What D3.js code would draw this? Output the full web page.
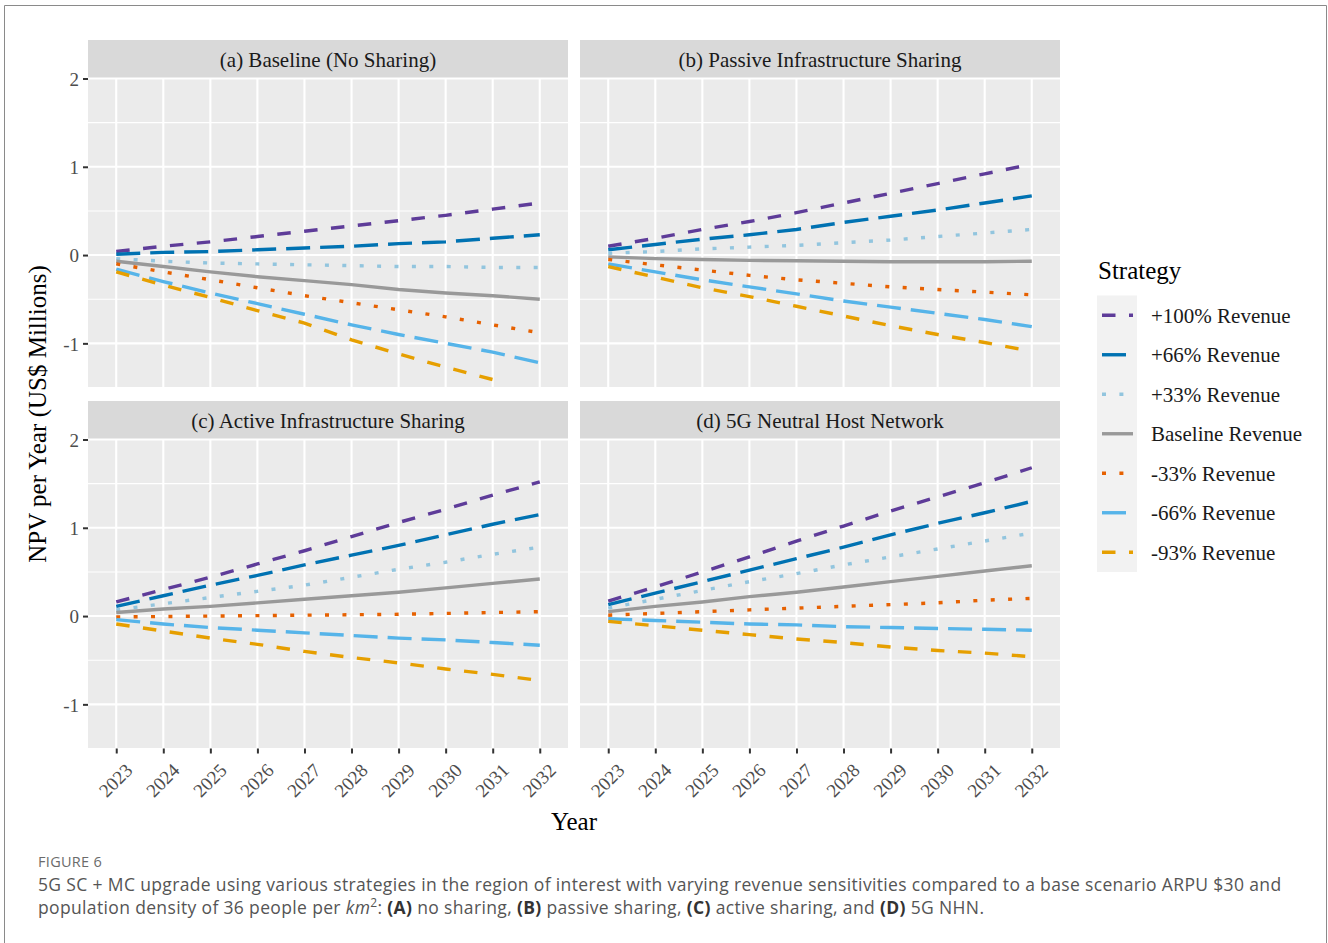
<!DOCTYPE html>
<html>
<head>
<meta charset="utf-8">
<script src="https://cdn.jsdelivr.net/npm/d3@7"></script>
<style>
  body { margin: 0; background: #fff; }
  svg { display: block; }
</style>
</head>
<body>
<script>
// ---- data ----
var years = [2023, 2024, 2025, 2026, 2027, 2028, 2029, 2030, 2031, 2032];
var strategies = ["+100% Revenue", "+66% Revenue", "+33% Revenue", "Baseline Revenue",
                  "-33% Revenue", "-66% Revenue", "-93% Revenue"];
var panelTitles = ["(a) Baseline (No Sharing)", "(b) Passive Infrastructure Sharing",
                   "(c) Active Infrastructure Sharing", "(d) 5G Neutral Host Network"];
var yTicks = [-1, 0, 1, 2];
var yMinor = [-1.5, -0.5, 0.5, 1.5];

// one row per strategy, same order as `strategies`
var noSharing = [
  [0.04, 0.10, 0.15, 0.21, 0.27, 0.33, 0.39, 0.45, 0.52, 0.59],
  [0.01, 0.03, 0.04, 0.06, 0.08, 0.10, 0.13, 0.15, 0.19, 0.23],
  [-0.04, -0.07, -0.09, -0.10, -0.11, -0.12, -0.13, -0.13, -0.14, -0.14],
  [-0.07, -0.13, -0.19, -0.245, -0.29, -0.335, -0.39, -0.43, -0.46, -0.50],
  [-0.10, -0.19, -0.28, -0.37, -0.46, -0.54, -0.62, -0.70, -0.79, -0.88],
  [-0.16, -0.30, -0.43, -0.55, -0.67, -0.79, -0.90, -1.00, -1.10, -1.22],
  [-0.19, -0.34, -0.48, -0.63, -0.77, -0.96, -1.12, -1.27, -1.41, -1.56]
];
var passiveSharing = [
  [0.10, 0.19, 0.29, 0.38, 0.48, 0.59, 0.70, 0.81, 0.92, 1.03],
  [0.06, 0.12, 0.18, 0.23, 0.29, 0.37, 0.44, 0.51, 0.59, 0.67],
  [0.02, 0.04, 0.07, 0.09, 0.11, 0.14, 0.17, 0.21, 0.25, 0.29],
  [-0.02, -0.04, -0.05, -0.06, -0.065, -0.07, -0.075, -0.075, -0.075, -0.07],
  [-0.05, -0.11, -0.17, -0.23, -0.28, -0.32, -0.36, -0.39, -0.42, -0.45],
  [-0.10, -0.19, -0.28, -0.36, -0.44, -0.52, -0.59, -0.66, -0.73, -0.81],
  [-0.13, -0.25, -0.37, -0.47, -0.58, -0.69, -0.80, -0.90, -0.99, -1.09]
];
var activeSharing = [
  [0.16, 0.30, 0.44, 0.59, 0.74, 0.90, 1.06, 1.21, 1.37, 1.52],
  [0.11, 0.23, 0.35, 0.46, 0.58, 0.69, 0.80, 0.92, 1.04, 1.15],
  [0.07, 0.14, 0.21, 0.28, 0.35, 0.44, 0.53, 0.61, 0.70, 0.78],
  [0.04, 0.08, 0.11, 0.15, 0.19, 0.23, 0.27, 0.32, 0.37, 0.42],
  [-0.01, -0.005, 0.0, 0.005, 0.01, 0.015, 0.02, 0.03, 0.04, 0.05],
  [-0.04, -0.09, -0.13, -0.16, -0.19, -0.22, -0.25, -0.27, -0.30, -0.33],
  [-0.09, -0.17, -0.25, -0.32, -0.40, -0.47, -0.53, -0.60, -0.66, -0.73]
];
var neutralHost = [
  [0.17, 0.33, 0.50, 0.67, 0.85, 1.02, 1.19, 1.35, 1.51, 1.68],
  [0.13, 0.26, 0.39, 0.52, 0.65, 0.78, 0.92, 1.05, 1.17, 1.30],
  [0.09, 0.19, 0.29, 0.39, 0.48, 0.58, 0.67, 0.76, 0.85, 0.94],
  [0.05, 0.11, 0.16, 0.22, 0.27, 0.33, 0.39, 0.45, 0.51, 0.57],
  [0.01, 0.03, 0.05, 0.07, 0.09, 0.11, 0.13, 0.15, 0.18, 0.20],
  [-0.03, -0.05, -0.07, -0.09, -0.10, -0.12, -0.13, -0.14, -0.15, -0.16],
  [-0.06, -0.11, -0.16, -0.21, -0.26, -0.30, -0.35, -0.39, -0.42, -0.46]
];
var panels = [noSharing, passiveSharing, activeSharing, neutralHost];

// ---- styling ----
var colors = ["#5E3C99", "#0072B2", "#92C5DE", "#999999", "#E66101", "#56B4E9", "#E69F00"];
var dashes = ["13.5,13.5", "24,10", "4,13.4", null, "4,13.4", "24,10", "13.5,13.5"];
var lw = 3.4;
var serif = "'Liberation Serif', 'Times New Roman', serif";
var sans = "'Open Sans', 'Noto Sans', sans-serif";

var W = 1328, H = 943;
var pw = 480, ph = 309;
var colX = [88, 580], rowY = [40, 401], stripH = 38.5;

var svg = d3.select("body").append("svg")
    .attr("width", W)
    .attr("height", H)
    .style("background", "#fff");

// thin frame round the figure
svg.append("path")
    .attr("d", "M4.5,943V5.5H1326.5V943")
    .attr("fill", "none")
    .attr("stroke", "#8a8a8a")
    .attr("stroke-width", 1);

var x = d3.scaleLinear().domain([2022.4, 2032.6]).range([0, pw]);
var y = d3.scaleLinear().domain([-1.5, 2]).range([ph, 0]);

svg.append("defs").append("clipPath")
    .attr("id", "clip")
    .append("rect")
    .attr("width", pw)
    .attr("height", ph);

// values outside the y limits are dropped, as ggplot does
var line = d3.line()
    .defined(function(d) { return d >= -1.5 && d <= 2; })
    .x(function(d, j) { return x(years[j]); })
    .y(function(d) { return y(d); });

panels.forEach(function(series, i) {
  var col = i % 2, row = Math.floor(i / 2);
  var g = svg.append("g")
      .attr("transform", "translate(" + colX[col] + "," + rowY[row] + ")");

  // facet strip
  g.append("rect")
      .attr("width", pw)
      .attr("height", stripH)
      .attr("fill", "#D9D9D9");
  g.append("text")
      .attr("x", pw / 2)
      .attr("y", stripH / 2)
      .attr("dy", "0.35em")
      .attr("text-anchor", "middle")
      .style("font-family", serif)
      .style("font-size", "21px")
      .attr("fill", "#1A1A1A")
      .text(panelTitles[i]);

  var p = g.append("g").attr("transform", "translate(0," + stripH + ")");
  p.append("rect")
      .attr("width", pw)
      .attr("height", ph)
      .attr("fill", "#EBEBEB");

  // grid
  p.selectAll(".minor").data(yMinor).enter().append("line")
      .attr("x1", 0).attr("x2", pw)
      .attr("y1", function(d) { return y(d); })
      .attr("y2", function(d) { return y(d); })
      .attr("stroke", "#fff").attr("stroke-width", 1.1);
  p.selectAll(".major").data(yTicks).enter().append("line")
      .attr("x1", 0).attr("x2", pw)
      .attr("y1", function(d) { return y(d); })
      .attr("y2", function(d) { return y(d); })
      .attr("stroke", "#fff").attr("stroke-width", 2.1);
  p.selectAll(".vgrid").data(years).enter().append("line")
      .attr("y1", 0).attr("y2", ph)
      .attr("x1", function(d) { return x(d); })
      .attr("x2", function(d) { return x(d); })
      .attr("stroke", "#fff").attr("stroke-width", 2.1);

  // series
  var lines = p.append("g").attr("clip-path", "url(#clip)");
  series.forEach(function(vals, k) {
    lines.append("path")
        .datum(vals)
        .attr("d", line)
        .attr("fill", "none")
        .attr("stroke", colors[k])
        .attr("stroke-width", lw)
        .attr("stroke-dasharray", dashes[k]);
  });

  // axes only on the outer edges
  if (col === 0) {
    var ya = p.append("g")
        .call(d3.axisLeft(y).tickValues(yTicks)
          .tickFormat(function(d) { return String(d); })
          .tickSize(5).tickPadding(4))
        .attr("font-family", serif)
        .attr("font-size", 19);
    ya.select(".domain").remove();
    ya.selectAll("line").attr("stroke", "#333").attr("stroke-width", 2);
    ya.selectAll("text")
        .attr("fill", "#4D4D4D")
        .attr("dy", "0.35em");
  }
  if (row === 1) {
    var xa = p.append("g")
        .attr("transform", "translate(0," + ph + ")")
        .call(d3.axisBottom(x).tickValues(years).tickFormat(d3.format("d")).tickSize(5))
        .attr("font-family", serif)
        .attr("font-size", 19);
    xa.select(".domain").remove();
    xa.selectAll("line").attr("stroke", "#333").attr("stroke-width", 2);
    xa.selectAll("text")
        .attr("x", 0).attr("y", 0).attr("dy", 0)
        .attr("text-anchor", "end")
        .attr("transform", "translate(17,23) rotate(-45)")
        .attr("fill", "#4D4D4D");
  }
});

// axis titles
svg.append("text")
    .attr("transform", "translate(46,414) rotate(-90)")
    .attr("text-anchor", "middle")
    .style("font-family", serif)
    .style("font-size", "25px")
    .text("NPV per Year (US$ Millions)");
svg.append("text")
    .attr("x", (colX[0] + colX[1] + pw) / 2)
    .attr("y", 830)
    .attr("text-anchor", "middle")
    .style("font-family", serif)
    .style("font-size", "25px")
    .text("Year");

// legend
var leg = svg.append("g").attr("transform", "translate(1097,0)");
leg.append("text")
    .attr("x", 1)
    .attr("y", 279)
    .style("font-family", serif)
    .style("font-size", "25px")
    .text("Strategy");
var keyH = 39.5, keyTop = 295.5;
leg.append("rect")
    .attr("y", keyTop)
    .attr("width", 40)
    .attr("height", keyH * strategies.length)
    .attr("fill", "#F2F2F2");
strategies.forEach(function(s, k) {
  var cy = keyTop + keyH * (k + 0.5);
  leg.append("line")
      .attr("x1", 5).attr("x2", 36)
      .attr("y1", cy).attr("y2", cy)
      .attr("stroke", colors[k])
      .attr("stroke-width", lw)
      .attr("stroke-dasharray", dashes[k]);
  leg.append("text")
      .attr("x", 54)
      .attr("y", cy)
      .attr("dy", "0.35em")
      .style("font-family", serif)
      .style("font-size", "21px")
      .attr("fill", "#1A1A1A")
      .text(s);
});

// caption
svg.append("text")
    .attr("x", 38).attr("y", 867)
    .style("font-family", sans)
    .style("font-size", "14.5px")
    .style("letter-spacing", "0.3px")
    .attr("fill", "#6b6b6b")
    .text("FIGURE 6");
svg.append("text")
    .attr("x", 38).attr("y", 891)
    .style("font-family", sans)
    .style("font-size", "17.5px")
    .style("letter-spacing", "0.35px")
    .attr("fill", "#555")
    .text("5G SC + MC upgrade using various strategies in the region of interest with varying revenue sensitivities compared to a base scenario ARPU $30 and");
var cap2 = svg.append("text")
    .attr("x", 38).attr("y", 914)
    .style("font-family", sans)
    .style("font-size", "17.5px")
    .style("letter-spacing", "0.35px")
    .attr("fill", "#555");
cap2.append("tspan").text("population density of 36 people per ");
cap2.append("tspan").style("font-style", "italic").text("km");
cap2.append("tspan").attr("dy", -7).style("font-size", "12px").text("2");
cap2.append("tspan").attr("dy", 7).text(": ");
[["(A)", " no sharing, "], ["(B)", " passive sharing, "], ["(C)", " active sharing, and "], ["(D)", " 5G NHN."]]
  .forEach(function(part) {
    cap2.append("tspan").style("font-weight", "700").attr("fill", "#333").text(part[0]);
    cap2.append("tspan").text(part[1]);
  });
</script>
</body>
</html>
